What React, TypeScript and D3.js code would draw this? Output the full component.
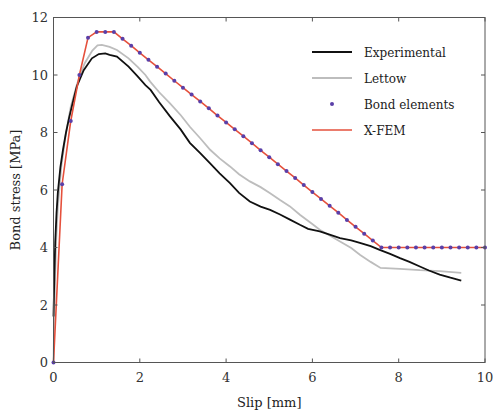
import React from 'react'
import * as d3 from 'd3'

// slip [mm], bond stress [MPa]
const experimental: [number, number][] = [
  [0, 1.6], [0.02, 3.0], [0.04, 4.2], [0.07, 5.2], [0.1, 5.9], [0.16, 6.8], [0.22, 7.4], [0.29, 8.0],
  [0.36, 8.5], [0.44, 9.0], [0.54, 9.6], [0.7, 10.17], [0.89, 10.58], [1.05, 10.73], [1.2, 10.75],
  [1.3, 10.7], [1.47, 10.64], [1.74, 10.29], [1.95, 9.95], [2.13, 9.65], [2.25, 9.48], [2.45, 9.05],
  [2.7, 8.56], [2.95, 8.1], [3.16, 7.64], [3.4, 7.28], [3.63, 6.93], [3.85, 6.58], [4.09, 6.24],
  [4.3, 5.9], [4.55, 5.6], [4.8, 5.42], [5.02, 5.31], [5.25, 5.15], [5.48, 4.97], [5.71, 4.79],
  [5.9, 4.65], [6.17, 4.56], [6.4, 4.45], [6.64, 4.33], [6.9, 4.25], [7.1, 4.16], [7.35, 4.05],
  [7.56, 3.92], [7.8, 3.78], [8.03, 3.63], [8.25, 3.5], [8.49, 3.34], [8.7, 3.2], [8.95, 3.06],
  [9.2, 2.95], [9.45, 2.85],
]

const lettow: [number, number][] = [
  [0, 0], [0.03, 2.5], [0.06, 4.2], [0.1, 5.4], [0.18, 6.8], [0.28, 7.9], [0.4, 8.9], [0.55, 9.7],
  [0.72, 10.4], [0.9, 10.85], [1.02, 11.03], [1.12, 11.05], [1.3, 10.98], [1.47, 10.87], [1.74, 10.58],
  [1.95, 10.28], [2.13, 10.0], [2.24, 9.77], [2.45, 9.4], [2.7, 9.01], [2.95, 8.6], [3.16, 8.2],
  [3.4, 7.8], [3.63, 7.4], [3.85, 7.1], [4.09, 6.82], [4.3, 6.55], [4.55, 6.3], [4.8, 6.1], [5.02, 5.89],
  [5.25, 5.65], [5.48, 5.43], [5.71, 5.14], [6.02, 4.79], [6.17, 4.62], [6.4, 4.42], [6.64, 4.21],
  [6.9, 3.98], [7.1, 3.75], [7.35, 3.5], [7.58, 3.29], [8.03, 3.26], [8.49, 3.21], [8.95, 3.18],
  [9.45, 3.12],
]

const bondSlip = [
  0, 0.2, 0.4, 0.6, 0.8, 1.0, 1.2, 1.4, 1.6, 1.8, 2.0, 2.2, 2.4, 2.6, 2.8, 3.0, 3.2, 3.4, 3.6, 3.8,
  4.0, 4.2, 4.4, 4.6, 4.8, 5.0, 5.2, 5.4, 5.6, 5.8, 6.0, 6.2, 6.4, 6.6, 6.8, 7.0, 7.2, 7.4, 7.6, 7.8,
  8.0, 8.2, 8.4, 8.6, 8.8, 9.0, 9.2, 9.4, 9.6, 9.8, 10.0,
]
const bondStress = [
  0, 6.2, 8.4, 10.0, 11.3, 11.5, 11.5, 11.5, 11.26, 11.02, 10.77, 10.53, 10.29, 10.05, 9.8, 9.56,
  9.32, 9.08, 8.84, 8.59, 8.35, 8.11, 7.87, 7.63, 7.38, 7.14, 6.9, 6.66, 6.42, 6.17, 5.93, 5.69,
  5.45, 5.21, 4.96, 4.72, 4.48, 4.24, 4.0, 4.0, 4.0, 4.0, 4.0, 4.0, 4.0, 4.0, 4.0, 4.0, 4.0, 4.0, 4.0,
]

const xTicks = [0, 2, 4, 6, 8, 10]
const yTicks = [0, 2, 4, 6, 8, 10, 12]
const legendItems = ['Experimental', 'Lettow', 'Bond elements', 'X-FEM']

const W = 493, H = 415
const left = 53.5, right = 485, top = 17.5, bottom = 362.5
const font = 'DejaVu Serif, serif'

export default function App() {
  const x = d3.scaleLinear().domain([0, 10]).range([left, right])
  const y = d3.scaleLinear().domain([0, 12]).range([bottom, top])
  const line = d3.line<[number, number]>().x(d => x(d[0])).y(d => y(d[1]))
  const bond: [number, number][] = bondSlip.map((s, i) => [s, bondStress[i]])

  const colors = ['#111', '#bdbdbd', '#5a3fa8', '#e5503c']
  const legendY = [52, 78, 104, 130]

  return (
    <svg width={W} height={H} style={{ position: 'absolute', left: 0, top: 0, background: '#fff' }}>
      <path d={line(lettow) || ''} fill="none" stroke="#bdbdbd" strokeWidth={1.8} />
      <path d={line(experimental) || ''} fill="none" stroke="#111" strokeWidth={1.8} />
      <path d={line(bond) || ''} fill="none" stroke="#e5503c" strokeWidth={1.6} />
      {bond.map((d, i) => (
        <circle key={i} cx={x(d[0])} cy={y(d[1])} r={2} fill="#5a3fa8" />
      ))}

      <rect x={left} y={top} width={right - left} height={bottom - top} fill="none" stroke="#555" strokeWidth={1} />
      {xTicks.map(t => (
        <g key={'x' + t}>
          <line x1={x(t)} x2={x(t)} y1={bottom} y2={bottom - 4} stroke="#555" />
          <line x1={x(t)} x2={x(t)} y1={top} y2={top + 4} stroke="#555" />
          <text x={x(t)} y={382} textAnchor="middle" fontFamily={font} fontSize={13} fill="#333">{t}</text>
        </g>
      ))}
      {yTicks.map(t => (
        <g key={'y' + t}>
          <line x1={left} x2={left + 4} y1={y(t)} y2={y(t)} stroke="#555" />
          <line x1={right} x2={right - 4} y1={y(t)} y2={y(t)} stroke="#555" />
          <text x={48} y={y(t) + 4.5} textAnchor="end" fontFamily={font} fontSize={13} fill="#333">{t}</text>
        </g>
      ))}

      <text x={(left + right) / 2} y={407} textAnchor="middle" fontFamily={font} fontSize={13} fill="#222">Slip [mm]</text>
      <text transform={`translate(20,${(top + bottom) / 2}) rotate(-90)`} textAnchor="middle" fontFamily={font} fontSize={13} fill="#222">Bond stress [MPa]</text>

      {legendItems.map((name, i) => (
        <g key={name}>
          {i === 2 ? (
            <circle cx={332} cy={legendY[i]} r={2} fill={colors[i]} />
          ) : (
            <line x1={312} x2={352} y1={legendY[i]} y2={legendY[i]} stroke={colors[i]} strokeWidth={i === 3 ? 1.6 : 2} />
          )}
          <text x={364} y={legendY[i] + 4.5} fontFamily={font} fontSize={12} fill="#222">{name}</text>
        </g>
      ))}
    </svg>
  )
}
